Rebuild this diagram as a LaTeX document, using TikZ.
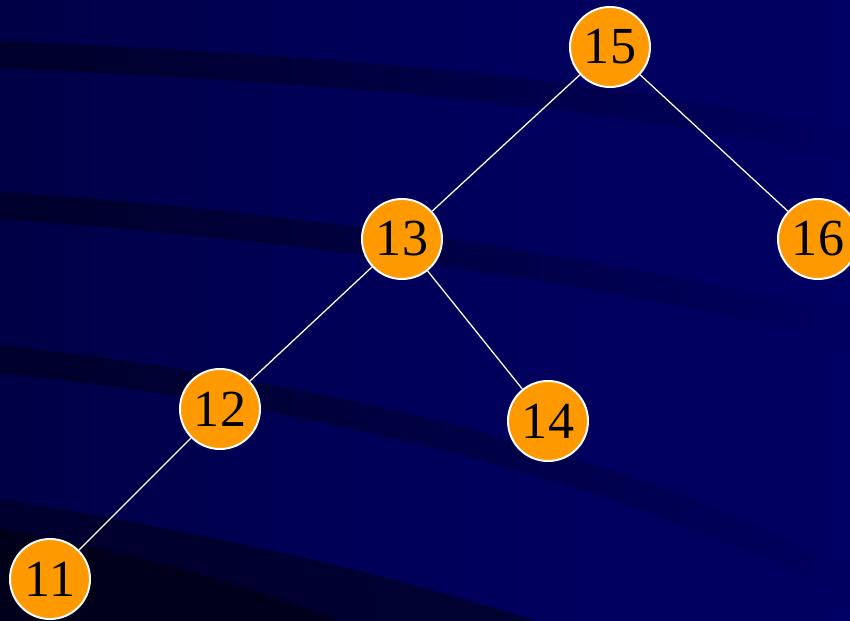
\documentclass[tikz,border=0pt]{standalone}
\usepackage{fontspec}
\setmainfont{Liberation Serif}
\usetikzlibrary{fadings}
\definecolor{bgdark}{RGB}{0,0,70}
\definecolor{bgblue}{RGB}{0,0,98}
\definecolor{stripe}{RGB}{0,0,42}
\definecolor{keyorange}{RGB}{255,153,0}
\tikzset{
  key/.style={circle,fill=keyorange,draw=white,line width=1.4pt,minimum size=2cm,inner sep=0pt,text=black,font=\fontsize{37}{40}\selectfont},
  edge/.style={draw=white,line width=0.9pt},
  band/.style={stripe,line width=0.68cm,path fading=east,opacity=0.95}
}
\begin{document}
\begin{tikzpicture}[x=0.025cm,y=-0.025cm]
					\useasboundingbox (0,0) rectangle (850,620);
					\shade[left color=bgdark,right color=bgblue,middle color=bgblue!75!bgdark] (0,0) rectangle (850,620);
					\begin{scope}
					\clip (0,0) rectangle (850,620);
					\draw[band] (-10,54) .. controls (350,70) and (650,95) .. (860,150);
					\draw[band] (-10,205) .. controls (300,225) and (600,270) .. (860,330);
					\draw[band] (-10,358) .. controls (250,385) and (600,450) .. (860,590);
					\fill[stripe,opacity=0.85] (-10,498) .. controls (200,530) and (420,580) .. (560,630) -- (-10,630) -- cycle;
					\fill[black,opacity=0.4] (-10,527) .. controls (150,555) and (280,595) .. (360,630) -- (-10,630) -- cycle;
					\end{scope}
					\node[key] (k15) at (610,47) {15};
					\node[key] (k13) at (402,239) {13};
					\node[key] (k16) at (818,239) {16};
					\node[key] (k12) at (220,409) {12};
					\node[key] (k14) at (548,421) {14};
					\node[key] (k11) at (50,579) {11};
					\path[edge] (k15) -- (k13);
					\path[edge] (k15) -- (k16);
					\path[edge] (k13) -- (k12);
					\path[edge] (k13) -- (k14);
					\path[edge] (k12) -- (k11);
				\end{tikzpicture}
\end{document}
